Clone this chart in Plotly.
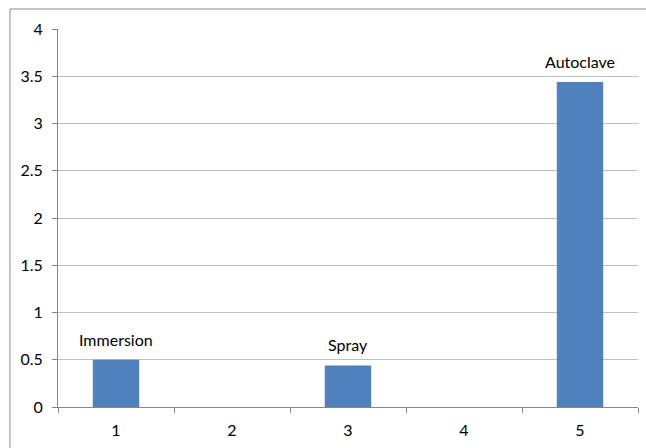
import plotly.graph_objects as go

# Treatment results per specimen position
positions = ["1", "2", "3", "4", "5"]
values = [0.5, 0, 0.44, 0, 3.44]
labels = ["Immersion", "", "Spray", "", "Autoclave"]
y_ticks = [0, 0.5, 1, 1.5, 2, 2.5, 3, 3.5, 4]
y_tick_text = ["0", "0.5", "1", "1.5", "2", "2.5", "3", "3.5", "4"]

font_family = "Lato, 'Open Sans', sans-serif"
font_size = 16

fig = go.Figure(
    go.Bar(
        x=positions,
        y=values,
        marker=dict(color="#4f81bd", line=dict(width=0)),
        width=0.4,
        hoverinfo="skip",
    )
)

# Treatment names above the non-zero bars (category index positions)
for idx, (val, lab) in enumerate(zip(values, labels)):
    if lab:
        fig.add_annotation(
            x=idx, y=val, text=lab, showarrow=False,
            yanchor="bottom", yshift=9,
            font=dict(family=font_family, size=font_size, color="#000000"),
        )

# Chart-area frame around the whole figure
fig.add_shape(
    type="rect", xref="paper", yref="paper",
    x0=-0.0828, y0=-0.3, x1=1.2, y1=1.0529,
    line=dict(color="#8a8a8a", width=1), fillcolor="rgba(0,0,0,0)",
    layer="above",
)

fig.update_layout(
    width=646, height=448,
    margin=dict(l=58, r=8, t=29, b=41),
    paper_bgcolor="white", plot_bgcolor="white",
    showlegend=False,
    font=dict(family=font_family, size=font_size, color="#000000"),
    bargap=0.6,
)

fig.update_xaxes(
    type="category",
    range=[-0.5, 4.5],
    tickson="boundaries",
    ticks="outside", ticklen=5, tickcolor="#878787",
    showline=True, linecolor="#878787", linewidth=1,
    showgrid=False,
    ticklabelstandoff=9,
    tickfont=dict(size=font_size, color="#000000"),
)

fig.update_yaxes(
    range=[0, 4],
    tickvals=y_ticks, ticktext=y_tick_text,
    ticks="outside", ticklen=5, tickcolor="#878787",
    showline=True, linecolor="#878787", linewidth=1,
    showgrid=True, gridcolor="#bfbfbf", gridwidth=1,
    zeroline=False,
    ticklabelstandoff=6,
    tickfont=dict(size=font_size, color="#000000"),
)

fig.write_html("out.html")
